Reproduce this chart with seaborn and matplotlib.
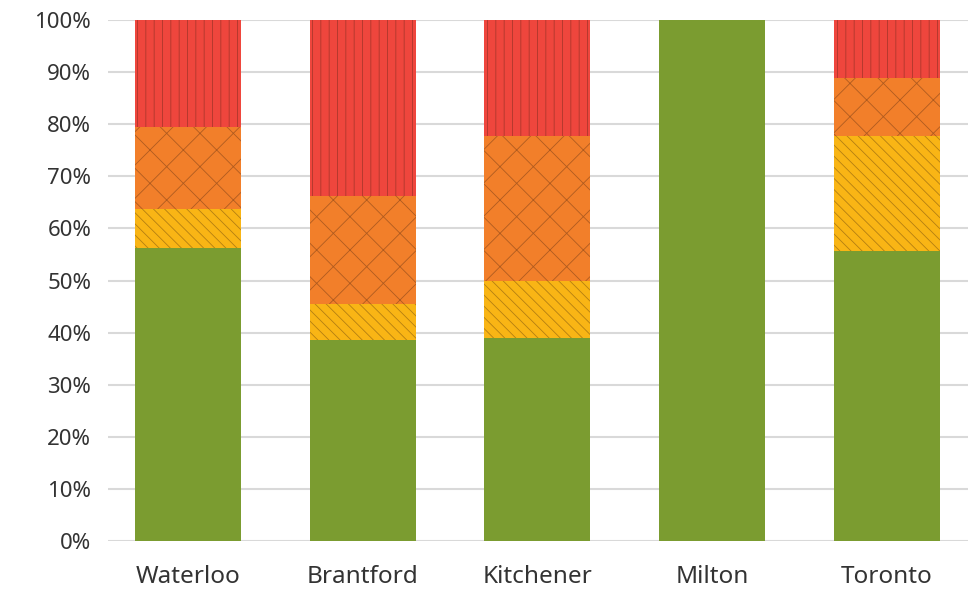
import numpy as np
import pandas as pd
import matplotlib
matplotlib.use("Agg")
import matplotlib.pyplot as plt
import seaborn as sns

cities = ["Waterloo", "Brantford", "Kitchener", "Milton", "Toronto"]
green = [56.3, 38.6, 38.9, 100.0, 55.6]
yellow = [7.5, 6.9, 11.1, 0.0, 22.2]
orange = [15.6, 20.7, 27.8, 0.0, 11.1]
red = [20.6, 33.8, 22.2, 0.0, 11.1]
yticks = [0, 10, 20, 30, 40, 50, 60, 70, 80, 90, 100]

series = [("green", green, "#7B9C30", ""),
          ("yellow", yellow, "#F9B515", "\\\\\\"),
          ("orange", orange, "#F27F2A", "x"),
          ("red", red, "#EF463D", "||")]

sns.set_theme(style="white")
plt.rcParams["font.family"] = ["Noto Sans", "DejaVu Sans"]
plt.rcParams["hatch.linewidth"] = 0.6

fig = plt.figure(figsize=(9.8, 5.92), dpi=100)
ax = fig.add_axes([0.110, 0.0861, 0.878, 0.8801])

cum = np.cumsum(np.array([s[1] for s in series]), axis=0)
for i in range(len(series) - 1, -1, -1):
    name, vals, col, hatch = series[i]
    df = pd.DataFrame({"city": cities, "val": cum[i]})
    sns.barplot(data=df, x="city", y="val", color=col, saturation=1,
                width=0.607, ax=ax, order=cities)
    cont = ax.containers[-1]
    for p in cont:
        p.set_facecolor(col)
        p.set_edgecolor((0.2, 0.1, 0.05, 0.35) if hatch else col)
        p.set_linewidth(0)
        p.set_hatch(hatch)
        p.set_zorder(3 + (len(series) - i))

ax.set_ylim(0, 100)
ax.set_xlim(-0.458, 4.467)
ax.set_yticks(yticks)
ax.set_yticklabels([f"{t}%" for t in yticks], fontsize=16, color="#333333")
ax.tick_params(axis="x", labelsize=17.5, labelcolor="#333333", pad=17, length=0)
ax.tick_params(axis="y", length=0, pad=12)
ax.set_xlabel("")
ax.set_ylabel("")
for s in ax.spines.values():
    s.set_visible(False)
ax.yaxis.grid(True, color="#D9D9D9", linewidth=1.5)
ax.set_axisbelow(True)

fig.savefig("out.png", dpi=100)
